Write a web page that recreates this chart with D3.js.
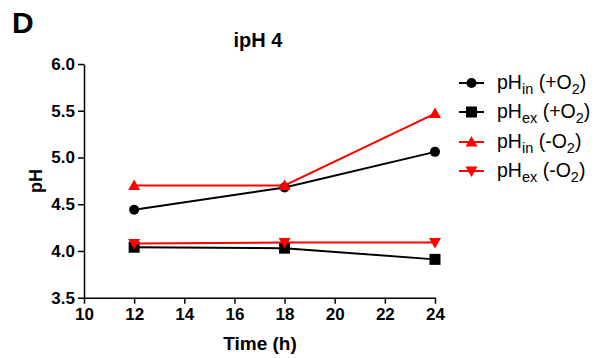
<!DOCTYPE html>
<html>
<head>
<meta charset="utf-8">
<script src="https://cdn.jsdelivr.net/npm/d3@7"></script>
<style>
  body { margin: 0; background: #fff; }
  text { font-family: "Liberation Sans", Arial, sans-serif; }
</style>
</head>
<body>
<div id="chart"></div>
<script>
// time points and pH series
const times = [12, 18, 24];
const phInOx = [4.44, 4.68, 5.06];
const phExOx = [4.04, 4.03, 3.91];
const phInAnox = [4.70, 4.70, 5.47];
const phExAnox = [4.08, 4.09, 4.09];
const xTicks = [10, 12, 14, 16, 18, 20, 22, 24];
const yTicks = [3.5, 4.0, 4.5, 5.0, 5.5, 6.0];

const width = 599, height = 358;
const margin = { left: 84, top: 64, right: 164, bottom: 60 };

const svg = d3.select("#chart").append("svg")
    .attr("width", width)
    .attr("height", height);

const x = d3.scaleLinear().domain([10, 24]).range([margin.left, 435]);
const y = d3.scaleLinear().domain([3.5, 6.0]).range([297.7, margin.top]);

// axes
const xAxis = svg.append("g")
    .attr("transform", `translate(0,${y(3.5)})`)
    .call(d3.axisBottom(x).tickValues(xTicks).tickSize(6).tickSizeOuter(0).tickPadding(4));
const yAxis = svg.append("g")
    .attr("transform", `translate(${x(10)},0)`)
    .call(d3.axisLeft(y).tickValues(yTicks).tickFormat(d3.format(".1f")).tickSize(6).tickSizeOuter(0).tickPadding(3));

[xAxis, yAxis].forEach(g => {
    g.select(".domain").attr("stroke", "#000").attr("stroke-width", 1.5);
    g.selectAll(".tick line").attr("stroke", "#000").attr("stroke-width", 1.5);
    g.selectAll(".tick text")
        .attr("fill", "#000")
        .style("font-size", "17px")
        .style("font-weight", "bold")
        .style("font-family", "'Liberation Sans', Arial, sans-serif");
});

// labels
svg.append("text").attr("x", 12).attr("y", 33)
    .style("font-size", "30px").style("font-weight", "bold").text("D");
svg.append("text").attr("x", 258).attr("y", 47).attr("text-anchor", "middle")
    .style("font-size", "20px").style("font-weight", "bold").text("ipH 4");
svg.append("text").attr("transform", "translate(42,181) rotate(-90)")
    .attr("text-anchor", "middle")
    .style("font-size", "18px").style("font-weight", "bold").text("pH");
svg.append("text").attr("x", 260).attr("y", 350).attr("text-anchor", "middle")
    .style("font-size", "19px").style("font-weight", "bold").text("Time (h)");

const series = [
    { vals: phInOx, color: "#000", shape: "circle", sub: "in", gas: "+O", key: 0 },
    { vals: phExOx, color: "#000", shape: "square", sub: "ex", gas: "+O", key: 1 },
    { vals: phInAnox, color: "#ff0000", shape: "up", sub: "in", gas: "-O", key: 2 },
    { vals: phExAnox, color: "#ff0000", shape: "down", sub: "ex", gas: "-O", key: 3 }
];

function drawMarker(g, shape, cx, cy, color) {
    if (shape === "circle") {
        g.append("circle").attr("cx", cx).attr("cy", cy).attr("r", 5).attr("fill", color);
    } else if (shape === "square") {
        g.append("rect").attr("x", cx - 5.5).attr("y", cy - 5.5).attr("width", 11).attr("height", 11).attr("fill", color);
    } else {
        const s = shape === "up" ? 1 : -1;
        const pts = [[cx - 6, cy + 4.5 * s], [cx + 6, cy + 4.5 * s], [cx, cy - 6 * s]];
        g.append("polygon").attr("points", pts.map(p => p.join(",")).join(" ")).attr("fill", color);
    }
}

const line = d3.line().x((d, i) => x(times[i])).y(d => y(d));

series.forEach(s => {
    const g = svg.append("g");
    g.append("path").datum(s.vals).attr("d", line)
        .attr("fill", "none").attr("stroke", s.color).attr("stroke-width", 2);
    s.vals.forEach((v, i) => drawMarker(g, s.shape, x(times[i]), y(v), s.color));
});

// legend
const legendY = [83, 112, 142, 171];
series.forEach((s, i) => {
    const ly = legendY[i];
    const g = svg.append("g");
    g.append("line").attr("x1", 459).attr("x2", 484).attr("y1", ly).attr("y2", ly)
        .attr("stroke", s.color).attr("stroke-width", 2);
    drawMarker(g, s.shape, 471.5, ly, s.color);
    const t = g.append("text").attr("x", 497).attr("y", ly + 6)
        .style("font-size", "19.5px").attr("fill", "#000");
    t.append("tspan").text("pH");
    t.append("tspan").attr("dy", 5).style("font-size", "14.5px").text(s.sub);
    t.append("tspan").attr("dy", -5).text(" (" + s.gas);
    t.append("tspan").attr("dy", 5).style("font-size", "14.5px").text("2");
    t.append("tspan").attr("dy", -5).text(")");
});
</script>
</body>
</html>
